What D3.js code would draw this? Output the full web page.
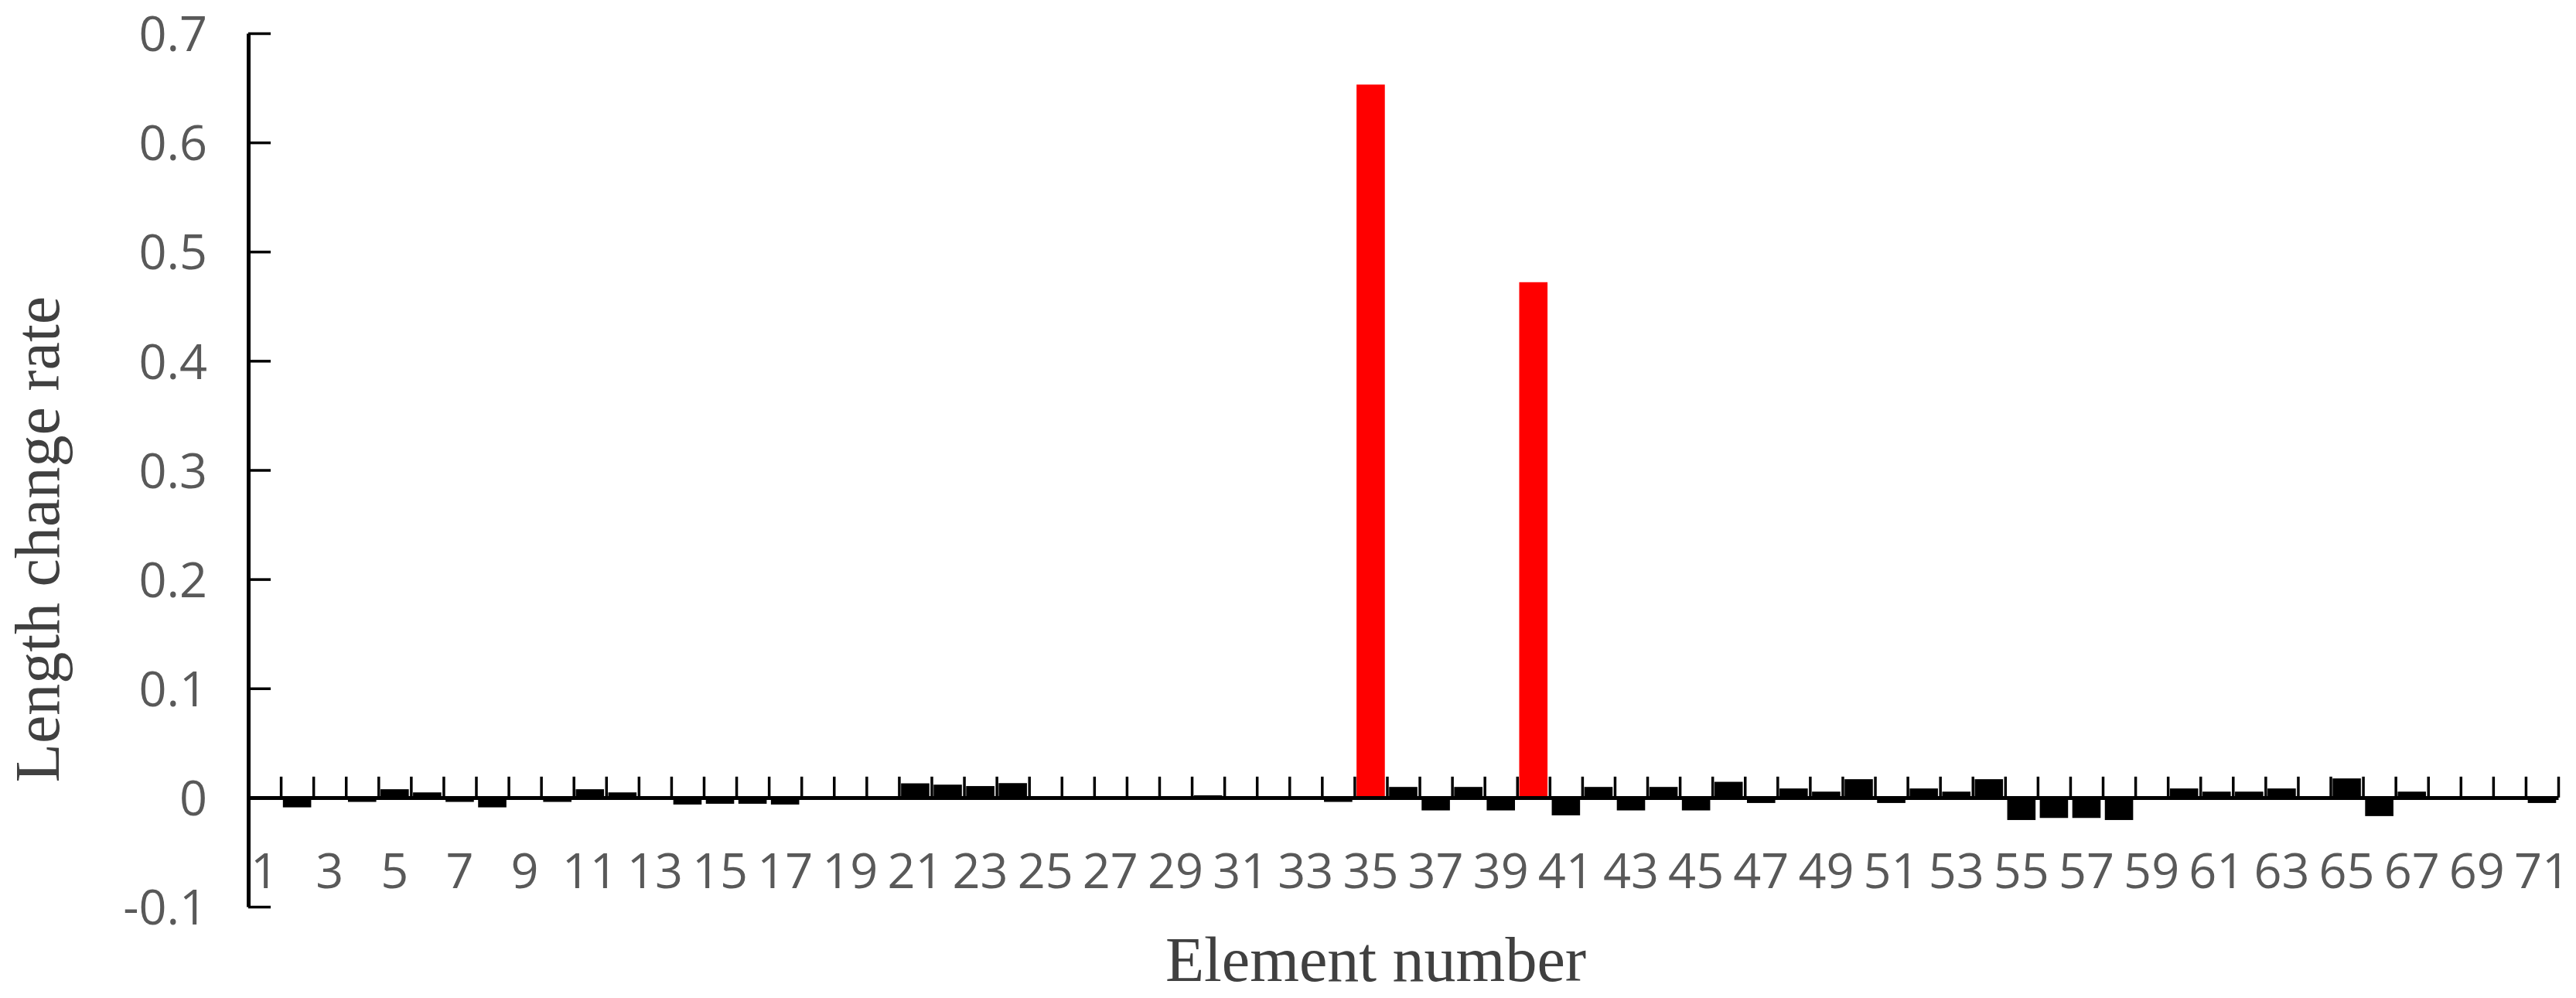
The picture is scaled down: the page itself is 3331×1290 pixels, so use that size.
<!DOCTYPE html>
<html lang="en">
<head>
  <meta charset="UTF-8">
  <title>Length change rate</title>
  <style>
    body {
      margin: 0;
      background: #fff;
    }
    .tick-label {
      font-family: "Open Sans", sans-serif;
      font-size: 63px;
      fill: #595959;
    }
    .title {
      font-family: "Liberation Serif", "Times New Roman", serif;
      font-size: 82px;
      fill: #404040;
    }
  </style>
</head>
<body>
  <svg></svg>
  <script src="https://d3js.org/d3.v7.min.js"></script>
  <script>
    // element numbers 1..71
    var elements = d3.range(1, 72);

    var changeRate = [
      -0.001, -0.009, 0, -0.004, 0.0076, 0.0047, -0.004, -0.009, 0, -0.004,
      0.0076, 0.0047, 0, -0.0064, -0.0057, -0.0057, -0.0064, 0, 0, 0,
      0.013, 0.0118, 0.0105, 0.0132, 0, 0, 0, 0, 0, 0.002,
      0, 0, 0, -0.004, 0.653, 0.0097, -0.0118, 0.0097, -0.0118, 0.472,
      -0.0163, 0.0097, -0.0118, 0.0097, -0.0118, 0.0144, -0.005, 0.0083, 0.0054, 0.0168,
      -0.005, 0.0083, 0.0054, 0.0168, -0.0206, -0.0187, -0.0187, -0.0206, 0, 0.0083,
      0.0054, 0.0054, 0.0083, 0.001, 0.0175, -0.017, 0.0054, 0, 0, 0,
      -0.005
    ];

    // damaged elements drawn in red
    var highlighted = [35, 40];

    var yTicks = [-0.1, 0, 0.1, 0.2, 0.3, 0.4, 0.5, 0.6, 0.7];
    var xLabels = elements.filter(d => d % 2 === 1);

    var width = 3331;
    var height = 1290;
    var plotLeft = 321, plotRight = 3308, plotTop = 43, plotBottom = 1172;

    var svg = d3.select("svg")
        .attr("width", width)
        .attr("height", height);

    var x = d3.scaleBand()
              .domain(elements)
              .range([plotLeft, plotRight])
              .paddingInner(0.13)
              .paddingOuter(0.065);

    // boundaries between elements, for the tick marks
    var xEdge = d3.scaleLinear()
                  .domain([0, elements.length])
                  .range([plotLeft, plotRight]);

    var y = d3.scaleLinear()
              .domain([-0.1, 0.7])
              .range([plotBottom, plotTop]);

    var data = elements.map((d, i) => ({ id: d, value: changeRate[i] }));

    svg.append("g")
      .selectAll("rect")
      .data(data)
      .enter()
      .append("rect")
        .attr("x", d => x(d.id))
        .attr("width", x.bandwidth())
        .attr("y", d => y(Math.max(0, d.value)))
        .attr("height", d => Math.abs(y(d.value) - y(0)))
        .attr("fill", d => highlighted.includes(d.id) ? "#ff0000" : "#000");

    // x axis: line at zero with upward ticks at element boundaries
    var xAxis = svg.append("g")
        .attr("transform", "translate(0," + y(0) + ")")
        .call(d3.axisBottom(xEdge)
          .tickValues(d3.range(1, elements.length + 1))
          .tickSizeInner(-27)
          .tickSizeOuter(0)
          .tickFormat(""));
    xAxis.select(".domain").attr("stroke", "#000").attr("stroke-width", 5);
    xAxis.selectAll(".tick line").attr("stroke", "#000").attr("stroke-width", 3.5);

    // x labels on odd elements
    var xLab = svg.append("g")
        .attr("transform", "translate(0," + y(0) + ")")
        .call(d3.axisBottom(x)
          .tickValues(xLabels)
          .tickSize(0));
    xLab.select(".domain").remove();
    xLab.selectAll("text")
        .attr("class", "tick-label")
        .attr("y", 117)
        .attr("dy", 0)
        .attr("fill", null);

    // y axis with ticks pointing inward
    var yAxis = svg.append("g")
        .attr("transform", "translate(" + plotLeft + ",0)")
        .call(d3.axisLeft(y)
          .tickValues(yTicks)
          .tickSizeInner(-29)
          .tickSizeOuter(0)
          .tickPadding(53)
          .tickFormat(d => d === 0 ? "0" : String(+d.toFixed(1))));
    yAxis.select(".domain").attr("stroke", "#000").attr("stroke-width", 5);
    yAxis.selectAll(".tick line").attr("stroke", "#000").attr("stroke-width", 3.5);
    yAxis.selectAll("text")
        .attr("class", "tick-label")
        .attr("dy", "0.36em")
        .attr("fill", null);

    svg.append("text")
        .attr("class", "title")
        .attr("text-anchor", "middle")
        .attr("transform", "translate(76,697) rotate(-90)")
        .text("Length change rate");

    svg.append("text")
        .attr("class", "title")
        .attr("text-anchor", "middle")
        .attr("x", 1779)
        .attr("y", 1268)
        .text("Element number");
  </script>
</body>
</html>
